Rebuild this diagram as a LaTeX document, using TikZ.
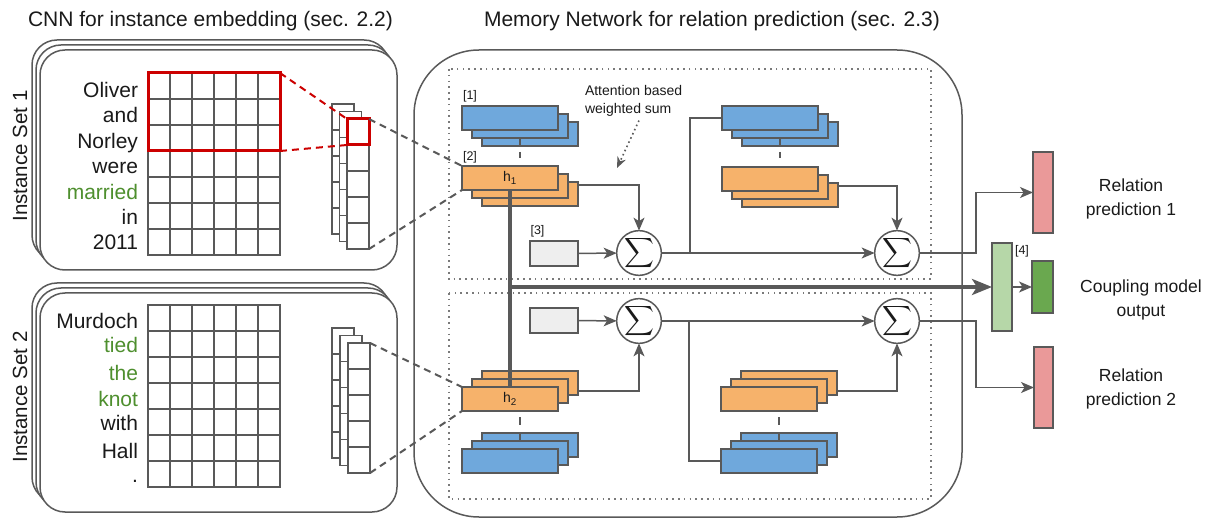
\documentclass[tikz,border=0pt]{standalone}
\usepackage{exscale}
\usepackage{fontspec}
\setmainfont{Liberation Sans}
\usetikzlibrary{arrows.meta,calc}
\definecolor{lc}{HTML}{595959}
\definecolor{bluef}{HTML}{6FA8DC}
\definecolor{orf}{HTML}{F6B26B}
\definecolor{greyf}{HTML}{EEEEEE}
\definecolor{redf}{HTML}{EA9999}
\definecolor{lgreen}{HTML}{B6D7A8}
\definecolor{dgreen}{HTML}{6AA84F}
\definecolor{wordgreen}{HTML}{4E8F2E}
\definecolor{redline}{HTML}{CC0000}
\definecolor{txt}{HTML}{1A1A1A}
\newcommand\mystack[6]{%
  \node[#2] (#13) at (#3+20,#4+2*#5) {};
  \node[#2] (#12) at (#3+10,#4+#5) {};
  \node[#2] (#11) at (#3,#4) {#6};}
\newcommand\fmcolumn[3]{%
  \node[fmcol] (#1) at (#2,#3) {};
  \foreach \k in {1,...,4} \draw[gline] (#2,#3+26*\k) -- (#2+22,#3+26*\k);}
\begin{document}
\begin{tikzpicture}[x=1pt,y=-1pt,
  every node/.style={inner sep=0pt,outer sep=0pt,text=txt},
  conn/.style={draw=lc,line width=1.5pt},
  arr/.style={conn,-{Stealth[length=13pt,width=11pt,inset=3.5pt]}},
  bigarr/.style={draw=lc,line width=3.5pt,-{Stealth[length=20pt,width=16pt,inset=5pt]}},
  stackbox/.style={draw=lc,line width=1.5pt,minimum width=96pt,minimum height=24pt},
  bbox/.style={stackbox,fill=bluef},
  obox/.style={stackbox,fill=orf,font=\fontsize{14}{14}\selectfont},
  gbox/.style={draw=lc,line width=1.5pt,fill=greyf,minimum width=48pt,minimum height=25pt},
  sig/.style={circle,draw=lc,line width=1.5pt,fill=white,minimum size=41pt,font=\fontsize{20}{20}\selectfont},
  tagtext/.style={font=\fontsize{12.5}{12.5}\selectfont},
  word/.style={anchor=base east,font=\fontsize{21}{21}\selectfont},
  isframe/.style={draw=lc,line width=1.5pt,fill=white,rounded corners=25pt},
  fmcol/.style={draw=lc,line width=1.5pt,fill=white,minimum width=22pt,minimum height=130pt,anchor=north west},
  gline/.style={draw=lc,line width=1.5pt},
  gridbox/.style={draw=lc,line width=1.5pt,minimum width=132pt,minimum height=182pt,anchor=north west},
  reddash/.style={draw=redline,line width=2pt,dash pattern=on 7pt off 5pt},
  greydash/.style={draw=lc,line width=2pt,dash pattern=on 7pt off 5pt},
  dotbox/.style={draw=lc!80,line width=1.6pt,dash pattern=on 1.6pt off 4.2pt},
  outbox/.style={draw=lc,line width=1.5pt},
  label/.style={align=center,font=\fontsize{17.5}{24}\selectfont},
  title/.style={anchor=base west,font=\fontsize{21}{21}\selectfont},
]
\useasboundingbox (0,0) rectangle (1214,518);

% titles
\node[title] (t1) at (28,27) {CNN for instance embedding (sec. 2.2)};
\node[title] (t2) at (484,27) {Memory Network for relation prediction (sec. 2.3)};

% ---------- Instance set 1 ----------
\draw[isframe] (32,40) rectangle (389,260);
\draw[isframe] (36,45) rectangle (393,265);
\draw[isframe] (40,50) rectangle (397,270);
\node[rotate=90,font=\fontsize{20.5}{20.5}\selectfont] (is1) at (20,156) {Instance Set 1};
\node[gridbox] (grid1) at (148,73) {};
\foreach \i in {1,...,5} \draw[gline] (148+22*\i,73) -- (148+22*\i,255);
\foreach \j in {1,...,6} \draw[gline] (148,73+26*\j) -- (280,73+26*\j);
\node[draw=redline,line width=3pt,minimum width=132pt,minimum height=78pt,anchor=north west] (rb1) at (148,73) {};
\node[word] (w11) at (138,97.5) {Oliver};
\node[word] (w12) at (138,122.9) {and};
\node[word] (w13) at (138,148.3) {Norley};
\node[word] (w14) at (138,173.7) {were};
\node[word,text=wordgreen] (w15) at (138,199.1) {married};
\node[word] (w16) at (138,224.5) {in};
\node[word] (w17) at (138,249.9) {2011};
\fmcolumn{fa3}{332}{104}
\fmcolumn{fa2}{339.5}{111.5}
\fmcolumn{fa1}{347}{119}
\node[draw=redline,line width=3pt,minimum width=22pt,minimum height=26pt,anchor=north west] (rc1) at (347,119) {};
\draw[reddash] (rb1.north east) -- (rc1.north west);
\draw[reddash] (rb1.south east) -- (rc1.south west);

% ---------- Instance set 2 ----------
\draw[isframe] (32,283) rectangle (389,502);
\draw[isframe] (36,288) rectangle (393,507);
\draw[isframe] (40,293) rectangle (397,512);
\node[rotate=90,font=\fontsize{20.5}{20.5}\selectfont] (is2) at (20,397) {Instance Set 2};
\node[gridbox] (grid2) at (148,305) {};
\foreach \i in {1,...,5} \draw[gline] (148+22*\i,305) -- (148+22*\i,487);
\foreach \j in {1,...,6} \draw[gline] (148,305+26*\j) -- (280,305+26*\j);
\node[word] (w21) at (138,328.3) {Murdoch};
\node[word,text=wordgreen] (w22) at (138,352.7) {tied};
\node[word,text=wordgreen] (w23) at (138,380) {the};
\node[word,text=wordgreen] (w24) at (138,406) {knot};
\node[word] (w25) at (138,430) {with};
\node[word] (w26) at (138,458) {Hall};
\node[word] (w27) at (138,482) {.};
\fmcolumn{fb3}{332}{328}
\fmcolumn{fb2}{340}{335.5}
\fmcolumn{fb1}{348}{343}

% ---------- Memory network ----------
\draw[conn,rounded corners=65pt] (414,50) rectangle (962,517);
\draw[dotbox] (449,69) rectangle (931,279);
\draw[dotbox] (449,293) rectangle (931,499);

% connectors (behind boxes)
\coordinate (j1) at (690,253);
\draw[conn] (j1) |- (770,118);
\coordinate (j3) at (689,321);
\draw[conn] (j3) |- (769,461);

\mystack{bTL}{bbox}{510}{118}{8}{}
\mystack{oTL}{obox}{510}{178}{8}{h\textsubscript{1}}
\mystack{bTR}{bbox}{770}{118}{8}{}
\mystack{oTR}{obox}{770}{179}{8}{}
\mystack{oBL}{obox}{510}{399}{-8}{h\textsubscript{2}}
\mystack{bBL}{bbox}{510}{461}{-8}{}
\mystack{oBR}{obox}{769}{399}{-8}{}
\mystack{bBR}{bbox}{769}{461}{-8}{}

\draw[conn,dash pattern=on 8pt off 6pt on 6pt off 20pt] (bTL2.south) -- (oTL2.north);
\draw[conn,dash pattern=on 8pt off 6pt on 6pt off 20pt] (bTR2.south) -- (oTR2.north);
\draw[conn,dash pattern=on 0pt off 14pt on 8pt off 7pt on 9pt off 0pt] (oBL2.south) -- (bBL2.north);
\draw[conn,dash pattern=on 0pt off 14pt on 8pt off 7pt on 9pt off 0pt] (oBR2.south) -- (bBR2.north);

\node[tagtext] (tg1) at (470,96.5) {[1]};
\node[tagtext] (tg2) at (470,157) {[2]};
\node[tagtext] (tg3) at (537.5,231.5) {[3]};

\node[gbox] (g1) at (554,253.5) {};
\node[gbox] (g2) at (554,320.5) {};
\node[sig] (s1) at (639,253) {$\displaystyle\sum$};
\node[sig] (s2) at (897,253) {$\displaystyle\sum$};
\node[sig] (s3) at (639,321) {$\displaystyle\sum$};
\node[sig] (s4) at (897,321) {$\displaystyle\sum$};

% output boxes
\node[outbox,fill=redf,minimum width=20pt,minimum height=81pt] (r1) at (1043,192.5) {};
\node[outbox,fill=redf,minimum width=19pt,minimum height=81pt] (r2) at (1043.5,387.5) {};
\node[outbox,fill=lgreen,minimum width=20pt,minimum height=88pt] (lgbox) at (1002,287) {};
\node[outbox,fill=dgreen,minimum width=21pt,minimum height=52pt] (dgbox) at (1042.5,287) {};
\node[tagtext] (tg4) at (1022,251) {[4]};

\draw[arr] ($(oTL3.north east)+(0,3)$) -| (s1);
\draw[arr] (g1) -- (s1);
\draw[arr] (s1) -- (s2);
\draw[arr] ($(oTR3.north east)+(0,3)$) -| (s2);
\coordinate (k1) at (976,253);
\draw[arr] (s2) -- (k1) |- (r1);

\draw[arr] ($(oBL3.south east)+(0,-4)$) -| (s3);
\draw[arr] (g2) -- (s3);
\draw[arr] (s3) -- (s4);
\draw[arr] ($(oBR3.south east)+(0,-4)$) -| (s4);
\coordinate (k3) at (976,321);
\draw[arr] (s4) -- (k3) |- (r2);

% thick coupling line
\draw[draw=lc,line width=3.5pt] (oTL1.south) -- (oBL1.north);
\coordinate (t0) at (510,287);
\draw[bigarr] (t0) -- (lgbox);
\draw[arr] (lgbox) -- (dgbox);

% attention annotation
\node[align=left,anchor=north west,font=\fontsize{14}{18}\selectfont] (att) at (585,85.5) {Attention based\\weighted sum};
\coordinate (atip) at (617,168);
\draw[draw=lc,line width=1.6pt,dash pattern=on 1.6pt off 3pt,-{Stealth[length=11pt,width=9pt]}] ($(att.south west)+(54,4)$) -- (atip);

% CNN to memory dashed
\draw[greydash] (fa1.north east) -- (oTL1.north west);
\draw[greydash] (fa1.south east) -- (oTL1.south west);
\draw[greydash] (fb1.north east) -- (oBL1.north west);
\draw[greydash] (fb1.south east) -- (oBL1.south west);

% right labels
\node[label] (l1) at (1131,199) {Relation\\prediction 1};
\node[label] (l2) at (1141,300) {Coupling model\\output};
\node[label] (l3) at (1131,389) {Relation\\prediction 2};
\end{tikzpicture}
\end{document}
